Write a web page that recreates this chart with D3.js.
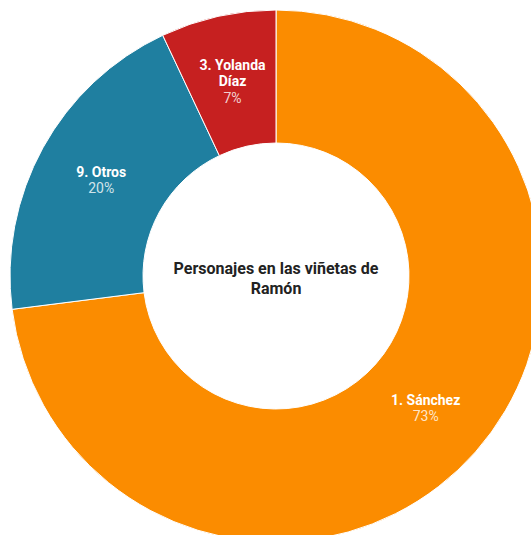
<!DOCTYPE html>
<html>
<head>
<meta charset="utf-8">
<script src="https://cdn.jsdelivr.net/npm/d3@7"></script>
<style>
  html, body { margin: 0; padding: 0; background: #fff; overflow: hidden; }
  svg { display: block; font-family: Roboto, "Noto Sans", sans-serif; }
</style>
</head>
<body>
<svg id="chart" width="531" height="535"></svg>
<script>
// Personajes y su peso en las viñetas
const names = ["1. Sánchez", "9. Otros", "3. Yolanda Díaz"];
const values = [73, 20, 7];
const colors = ["#FB8C00", "#1F7FA0", "#C62020"];
const title = ["Personajes en las viñetas de", "Ramón"];

const svg = d3.select("#chart");
const cx = 276, cy = 276;
const outerR = 266, innerR = 133;

const data = names.map((n, i) => ({ name: n, value: values[i], color: colors[i] }));

const pie = d3.pie().value(d => d.value).sort(null);
const arc = d3.arc().innerRadius(innerR).outerRadius(outerR);

const g = svg.append("g").attr("transform", `translate(${cx},${cy})`);

const arcs = pie(data);

g.selectAll("path.slice")
  .data(arcs)
  .join("path")
  .attr("class", "slice")
  .attr("d", arc)
  .attr("fill", d => d.data.color)
  .attr("stroke", "#fff")
  .attr("stroke-width", 1);

// Etiquetas: nombre (envuelto) y porcentaje
const wrapNames = { "3. Yolanda Díaz": ["3. Yolanda", "Díaz"] };
const lineH = 16.5;

g.selectAll("text.lab")
  .data(arcs)
  .join("text")
  .attr("class", "lab")
  .attr("text-anchor", "middle")
  .attr("font-size", 14)
  .attr("fill", "#fff")
  .each(function (d) {
    const [x, y] = arc.centroid(d);
    const lines = wrapNames[d.data.name] || [d.data.name];
    const total = lines.length + 1;
    const y0 = y - (total - 1) * lineH / 2;
    const t = d3.select(this);
    lines.forEach((l, i) => {
      t.append("tspan")
        .attr("x", x)
        .attr("y", y0 + i * lineH)
        .attr("dy", "0.35em")
        .attr("font-weight", "bold")
        .text(l);
    });
    t.append("tspan")
      .attr("x", x)
      .attr("y", y0 + lines.length * lineH)
      .attr("dy", "0.35em")
      .attr("fill-opacity", 0.8)
      .text(d3.format(".0f")(d.data.value) + "%");
  });

// Título central
const tt = g.append("text")
  .attr("text-anchor", "middle")
  .attr("font-size", 16)
  .attr("font-weight", "bold")
  .attr("fill", "#222");
title.forEach((l, i) => {
  tt.append("tspan")
    .attr("x", 0)
    .attr("y", -8 + i * 20)
    .attr("dy", "0.35em")
    .text(l);
});
</script>
</body>
</html>
